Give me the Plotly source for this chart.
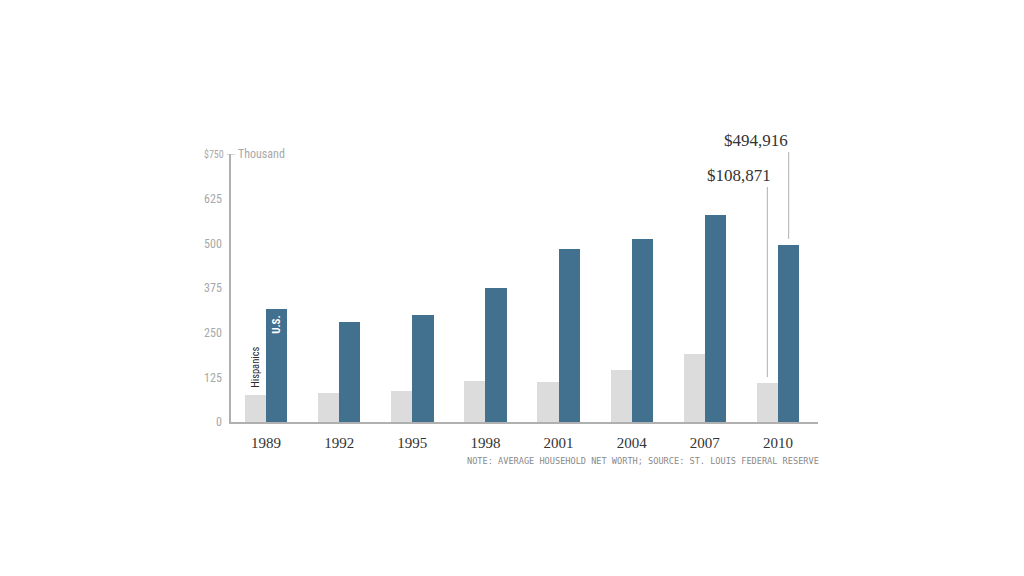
import plotly.graph_objects as go

years = ["1989", "1992", "1995", "1998", "2001", "2004", "2007", "2010"]
hispanics = [76, 81, 87, 115, 112, 146, 191, 108.871]
us_all = [317, 281, 300, 374, 483, 511, 579, 494.916]
y_ticks = [0, 125, 250, 375, 500, 625]

US_COLOR = "#42708f"
HISP_COLOR = "#dcdcdc"
BAR_W = 0.29
xs = list(range(len(years)))

fig = go.Figure()
fig.add_trace(go.Bar(x=xs, y=hispanics, offset=-BAR_W, width=BAR_W,
                     marker=dict(color=HISP_COLOR, line=dict(width=0)),
                     name="Hispanics", hoverinfo="y"))
fig.add_trace(go.Bar(x=xs, y=us_all, offset=0, width=BAR_W,
                     marker=dict(color=US_COLOR, line=dict(width=0)),
                     name="U.S.", hoverinfo="y"))

axis_grey = "#b0b0b0"
label_grey = "#a8a8a8"
narrow = "Liberation Sans Narrow, Roboto Condensed, Arial Narrow, sans-serif"
serif = "Liberation Serif, DejaVu Serif, serif"

fig.update_layout(
    width=1024, height=576,
    margin=dict(l=223, r=214, t=146, b=162, autoexpand=False),
    paper_bgcolor="white", plot_bgcolor="white",
    showlegend=False, barmode="overlay", bargap=0,
    xaxis=dict(range=[-0.479, 7.547], tickvals=xs, ticktext=years,
               showgrid=False, zeroline=False, showline=True,
               linecolor=axis_grey, linewidth=1.5, ticks="",
               tickfont=dict(family=serif, size=15, color="#333333"),
               ticklabelstandoff=6, fixedrange=True),
    yaxis=dict(range=[0, 750], tickvals=y_ticks,
               ticktext=[str(v) for v in y_ticks],
               showgrid=False, zeroline=False, showline=True,
               linecolor=axis_grey, linewidth=1.5, ticks="",
               tickfont=dict(family=narrow, size=12, color=label_grey),
               ticklabelstandoff=5, fixedrange=True),
)

annotations = [
    dict(xref="paper", yref="y", x=0, y=750, xanchor="right", yanchor="middle",
         xshift=-5, text="$750", showarrow=False,
         font=dict(family=narrow, size=10, color=label_grey)),
    dict(xref="paper", yref="y", x=0, y=750, xanchor="left", yanchor="middle",
         xshift=5, text="Thousand", showarrow=False,
         font=dict(family=narrow, size=12, color=label_grey)),
    dict(xref="x", yref="y", x=0 - BAR_W / 2, y=hispanics[0], yanchor="bottom",
         xanchor="center", yshift=5, text="Hispanics", textangle=-90,
         showarrow=False, font=dict(family=narrow, size=10.5, color="#2a2a2a")),
    dict(xref="x", yref="y", x=0 + BAR_W / 2, y=us_all[0], yanchor="top",
         xanchor="center", yshift=-4, text="<b>U.S.</b>", textangle=-90,
         showarrow=False, font=dict(family=narrow, size=11, color="white")),
    dict(xref="x", yref="paper", x=6.47, y=0.918, yanchor="middle", text="$108,871",
         showarrow=False, font=dict(family=serif, size=17, color="#333333")),
    dict(xref="x", yref="paper", x=6.70, y=1.052, yanchor="middle", text="$494,916",
         showarrow=False, font=dict(family=serif, size=17, color="#333333")),
    dict(xref="paper", yref="paper", x=1.005, y=-0.145, xanchor="right",
         yanchor="middle",
         text="NOTE: AVERAGE HOUSEHOLD NET WORTH; SOURCE: ST. LOUIS FEDERAL RESERVE",
         showarrow=False,
         font=dict(family="DejaVu Sans Mono, monospace", size=8.6, color="#8a8a8a")),
]
fig.update_layout(annotations=annotations)

last = len(years) - 1
shapes = [
    # small tick at the top of the y axis
    dict(type="line", xref="paper", yref="y", x0=-0.007, x1=0.007, y0=750, y1=750,
         line=dict(color=axis_grey, width=1)),
    # leader lines for the 2010 call-outs
    dict(type="line", xref="x", yref="paper", x0=last - BAR_W / 2, x1=last - BAR_W / 2,
         y0=0.168, y1=0.877, line=dict(color="#bdbdbd", width=1.2)),
    dict(type="line", xref="x", yref="paper", x0=last + BAR_W / 2, x1=last + BAR_W / 2,
         y0=0.683, y1=1.007, line=dict(color="#bdbdbd", width=1.2)),
]
fig.update_layout(shapes=shapes)

fig.write_html("out.html")
